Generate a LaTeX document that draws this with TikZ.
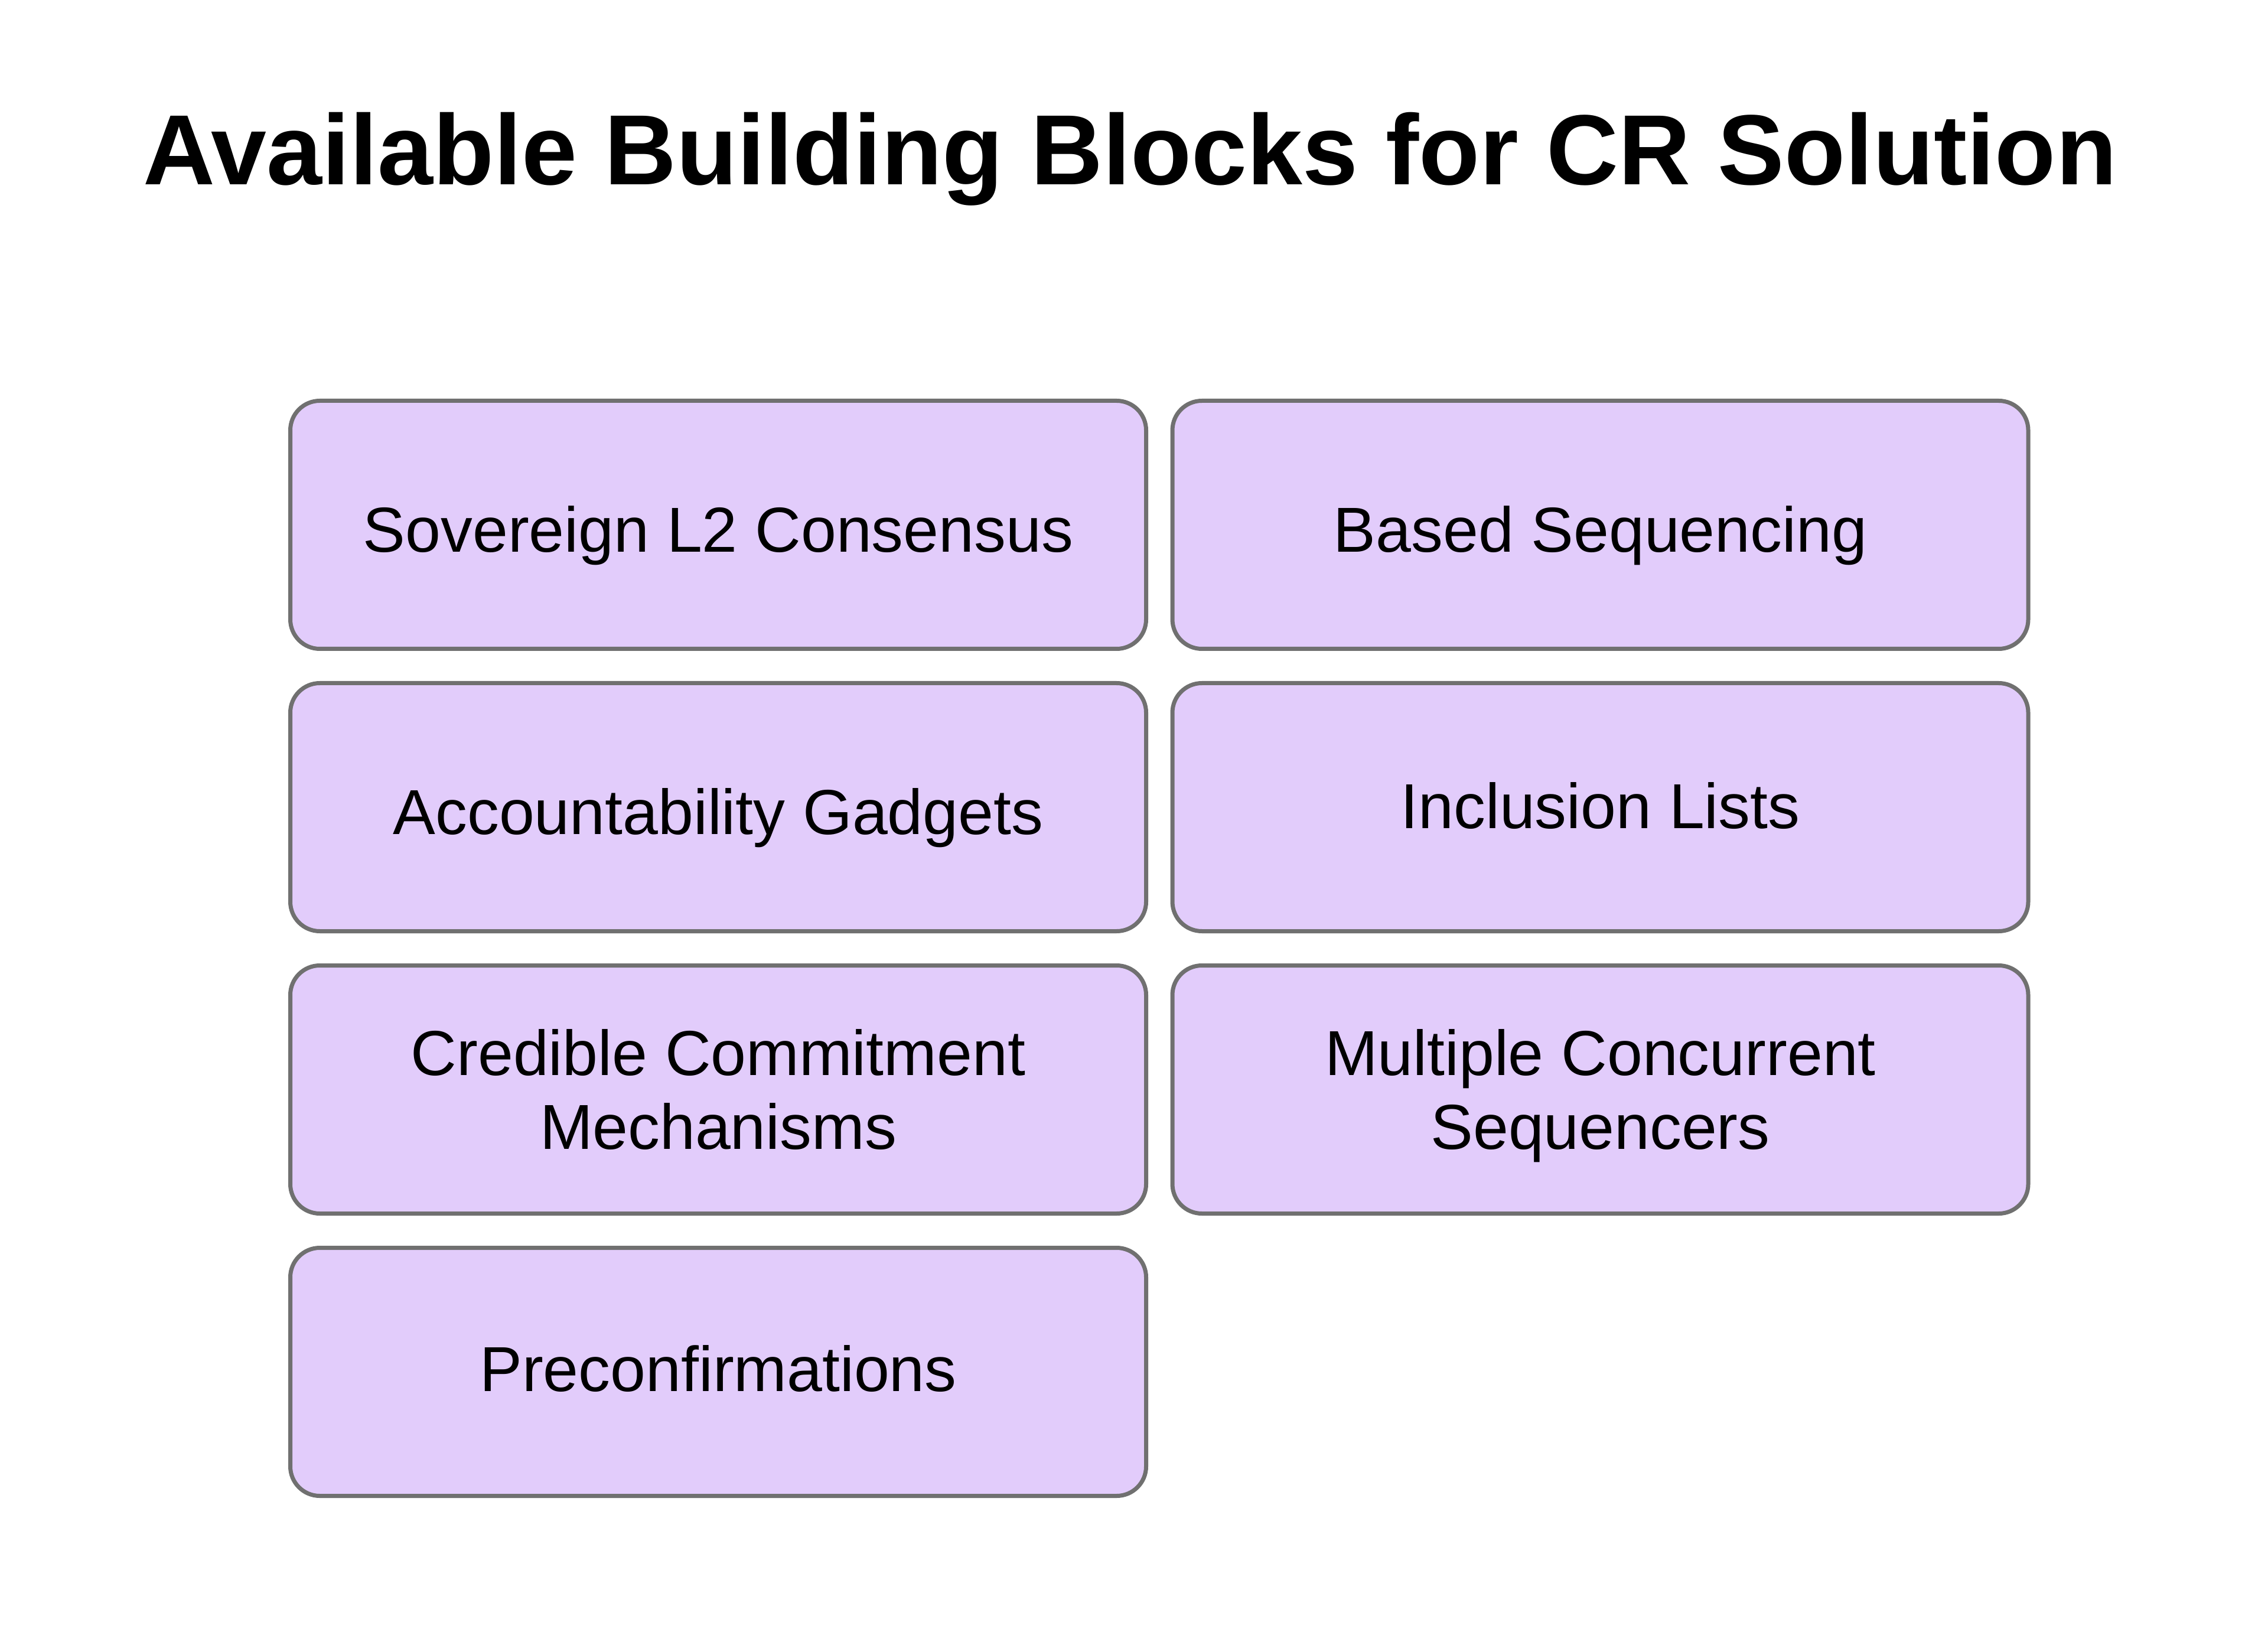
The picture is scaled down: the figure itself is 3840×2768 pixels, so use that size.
\documentclass[tikz,border=0pt]{standalone}
\usepackage{fontspec}
\setmainfont{Liberation Sans}
\definecolor{boxfill}{RGB}{226,204,251}
\definecolor{boxline}{RGB}{112,112,112}
\begin{document}
\begin{tikzpicture}[x=0.25pt,y=-0.25pt,
  block/.style={draw=boxline, fill=boxfill, line width=1.75pt, rounded corners=12.5pt,
    minimum width=362.25pt, minimum height=105pt, inner sep=0pt, align=center,
    font=\fontsize{26.9pt}{31.25pt}\selectfont},
  titlestyle/.style={font=\fontsize{42.2pt}{50pt}\selectfont\bfseries, inner sep=0pt, anchor=base}]
\useasboundingbox[fill=white] (0,0) rectangle (3840,2768);
\node[titlestyle] (title) at (1913,313) {Available Building Blocks for CR Solution};
\node[block, text height=23.25pt, text depth=0pt] (sov) at (1216,888.5) {Sovereign L2 Consensus};
\node[block, text height=23.25pt, text depth=0pt] (based) at (2709.5,888.5) {Based Sequencing};
\node[block, text height=22.75pt, text depth=0pt] (acc) at (1216,1366.5) {Accountability Gadgets};
\node[block, text height=17.75pt, text depth=0pt] (incl) at (2709.5,1366.5) {Inclusion Lists};
\node[block] (cred) at (1216,1844.5) {Credible Commitment\\Mechanisms};
\node[block] (multi) at (2709.5,1844.5) {Multiple Concurrent\\\raisebox{0pt}[\height][0pt]{Sequencers}};
\node[block, text height=16.25pt, text depth=0pt] (pre) at (1216,2322.5) {Preconfirmations};
\end{tikzpicture}
\end{document}
